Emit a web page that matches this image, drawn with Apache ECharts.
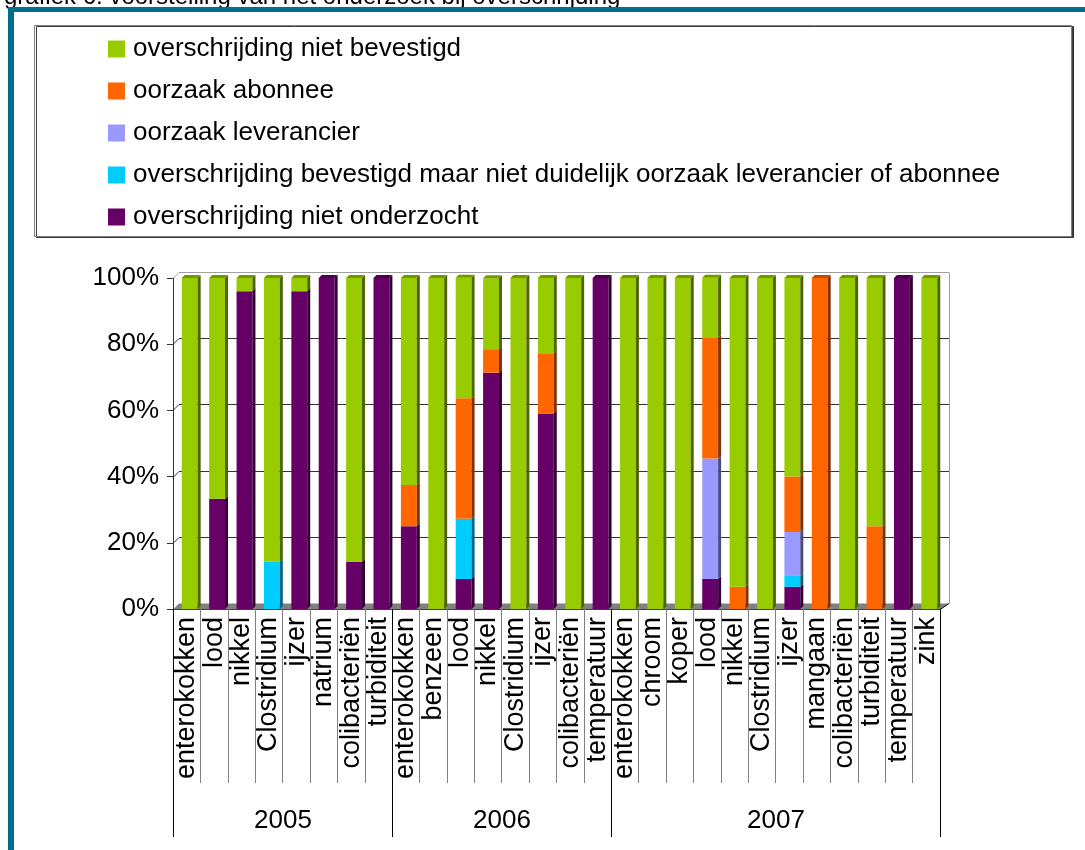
<!DOCTYPE html>
<html>
<head>
<meta charset="utf-8">
<script src="https://cdn.jsdelivr.net/npm/echarts@6/dist/echarts.min.js"></script>
<style>
  html, body { margin: 0; padding: 0; background: #fff; }
  #chart { width: 1085px; height: 850px; }
</style>
</head>
<body>
<div id="chart"></div>
<script>
// Parameters per year, in display order
const categories = [
  'enterokokken', 'lood', 'nikkel', 'Clostridium', 'ijzer', 'natrium', 'colibacteriën', 'turbiditeit',
  'enterokokken', 'benzeen', 'lood', 'nikkel', 'Clostridium', 'ijzer', 'colibacteriën', 'temperatuur',
  'enterokokken', 'chroom', 'koper', 'lood', 'nikkel', 'Clostridium', 'ijzer', 'mangaan', 'colibacteriën', 'turbiditeit', 'temperatuur', 'zink'
];
const years = ['2005', '2006', '2007'];
const yearCounts = [8, 8, 12];
const yTicks = [0, 20, 40, 60, 80, 100];

// Shares in % per parameter, stacked bottom to top
const nietOnderzocht = [
  0, 33.3, 96, 0, 96, 100, 14.3, 100,
  25, 0, 9.1, 71.4, 0, 59.1, 0, 100,
  0, 0, 0, 9.1, 0, 0, 6.7, 0, 0, 0, 100, 0
];
const bevestigdOnduidelijk = [
  0, 0, 0, 14.3, 0, 0, 0, 0,
  0, 0, 18.2, 0, 0, 0, 0, 0,
  0, 0, 0, 0, 0, 0, 3.3, 0, 0, 0, 0, 0
];
const oorzaakLeverancier = [
  0, 0, 0, 0, 0, 0, 0, 0,
  0, 0, 0, 0, 0, 0, 0, 0,
  0, 0, 0, 36.4, 0, 0, 13.3, 0, 0, 0, 0, 0
];
const oorzaakAbonnee = [
  0, 0, 0, 0, 0, 0, 0, 0,
  12.5, 0, 36.4, 7.1, 0, 18.2, 0, 0,
  0, 0, 0, 36.4, 6.7, 0, 16.7, 100, 0, 25, 0, 0
];
const nietBevestigd = [
  100, 66.7, 4, 85.7, 4, 0, 85.7, 0,
  62.5, 100, 36.4, 21.4, 100, 22.7, 100, 0,
  100, 100, 100, 18.2, 93.3, 100, 60, 0, 100, 75, 0, 100
];

const FONT = '"Liberation Sans", Arial, sans-serif';

// stack order (bottom -> top) with front / side / top face colours
const layers = [
  { name: 'overschrijding niet onderzocht', values: nietOnderzocht, color: '#660066', side: '#330033', top: '#4a004a' },
  { name: 'overschrijding bevestigd maar niet duidelijk oorzaak leverancier of abonnee', values: bevestigdOnduidelijk, color: '#00ccff', side: '#00667f', top: '#0099bf' },
  { name: 'oorzaak leverancier', values: oorzaakLeverancier, color: '#9999ff', side: '#4c4c80', top: '#7373bf' },
  { name: 'oorzaak abonnee', values: oorzaakAbonnee, color: '#ff6600', side: '#803300', top: '#bf4c00' },
  { name: 'overschrijding niet bevestigd', values: nietBevestigd, color: '#99cc00', side: '#4c6600', top: '#739900' }
];

const totals = categories.map((_, i) => layers.reduce((s, l) => s + l.values[i], 0));

function barSeries(layer, li) {
  const data = categories.map((_, i) => {
    let base = 0;
    for (let k = 0; k < li; k++) base += layers[k].values[i];
    return [i, base, base + layer.values[i]];
  });
  return {
    type: 'custom',
    name: layer.name,
    itemStyle: { color: layer.color },
    z: 3,
    data: data,
    renderItem: function (params, api) {
      const i = api.value(0), b = api.value(1), t = api.value(2);
      if (t - b <= 0.0001) return null;
      const p0 = api.coord([i, b]);
      const p1 = api.coord([i, t]);
      const cw = api.size([1, 0])[0];
      const fl = p0[0] - cw * 0.18;
      const fw = cw * 0.58;
      const dx = 3, dy = 3;
      const children = [
        { type: 'rect', shape: { x: fl, y: p1[1], width: fw, height: p0[1] - p1[1] }, style: { fill: layer.color } },
        { type: 'polygon', shape: { points: [[fl + fw, p1[1]], [fl + fw + dx, p1[1] - dy], [fl + fw + dx, p0[1] - dy], [fl + fw, p0[1]]] }, style: { fill: layer.side } }
      ];
      if (t >= totals[i] - 0.01) {
        children.push({ type: 'polygon', shape: { points: [[fl, p1[1]], [fl + dx, p1[1] - dy], [fl + fw + dx, p1[1] - dy], [fl + fw, p1[1]]] }, style: { fill: layer.top } });
      }
      return { type: 'group', children: children };
    }
  };
}

// back wall: gridlines, floor and right edge
const wallSeries = {
  type: 'custom',
  name: 'wall',
  silent: true,
  z: 1,
  data: yTicks.map(v => [0, v]),
  renderItem: function (params, api) {
    const cs = params.coordSys;
    const x0 = cs.x, x1 = cs.x + cs.width;
    const v = api.value(1);
    const y = Math.round(api.coord([0, v])[1]) + 0.5;
    const ddl = 6, ddr = 9, dh = 6;
    const children = [];
    if (v === 0) {
      children.push({ type: 'polygon', shape: { points: [[x0, y], [x0 + ddl, y - dh], [x1 + ddr, y - dh], [x1, y]] }, style: { fill: '#808080' } });
      const yTop = Math.round(api.coord([0, 100])[1]) + 0.5;
      children.push({ type: 'line', shape: { x1: x1 + ddr + 0.5, y1: y - dh, x2: x1 + ddr + 0.5, y2: yTop - dh }, style: { stroke: '#a0a0a0', lineWidth: 1 } });
      children.push({ type: 'line', shape: { x1: x1, y1: y, x2: x1 + ddr, y2: y - dh }, style: { stroke: '#000', lineWidth: 1 } });
    } else {
      const col = v === 100 ? '#a0a0a0' : '#333333';
      children.push({ type: 'line', shape: { x1: x0 + ddl, y1: y - dh, x2: x1 + ddr, y2: y - dh }, style: { stroke: col, lineWidth: 1 } });
      children.push({ type: 'line', shape: { x1: x0, y1: y, x2: x0 + ddl, y2: y - dh }, style: { stroke: col, lineWidth: 1 } });
    }
    return { type: 'group', children: children };
  }
};

// year groups below the parameter labels
const yearStarts = yearCounts.map((c, k) => yearCounts.slice(0, k).reduce((a, b) => a + b, 0));
const yearSeries = {
  type: 'custom',
  name: 'jaren',
  silent: true,
  z: 2,
  data: years.map((y, k) => [yearStarts[k], yearStarts[k] + yearCounts[k] - 1]),
  renderItem: function (params, api) {
    const k = params.dataIndex;
    const s = api.value(0), e = api.value(1);
    const cw = api.size([1, 0])[0];
    const xl = Math.round(api.coord([s, 0])[0] - cw / 2) + 0.5;
    const xr = Math.round(api.coord([e, 0])[0] + cw / 2) + 0.5;
    const y0 = api.coord([s, 0])[1];
    const children = [
      { type: 'line', shape: { x1: xl, y1: y0, x2: xl, y2: y0 + 228 }, style: { stroke: '#000', lineWidth: 1 } },
      { type: 'text', x: (xl + xr) / 2, y: y0 + 212, style: { text: years[k], font: '26px ' + FONT, fill: '#000', align: 'center', verticalAlign: 'middle' } }
    ];
    if (k === years.length - 1) {
      children.push({ type: 'line', shape: { x1: xr, y1: y0, x2: xr, y2: y0 + 228 }, style: { stroke: '#000', lineWidth: 1 } });
    }
    return { type: 'group', children: children };
  }
};

const chart = echarts.init(document.getElementById('chart'), null, { renderer: 'canvas' });
chart.setOption({
  animation: false,
  backgroundColor: '#ffffff',
  textStyle: { fontFamily: FONT },
  graphic: [
    { type: 'text', x: 4, y: 9, z: 10, style: { text: 'grafiek 6: voorstelling van het onderzoek bij overschrijding', font: '24px ' + FONT, fill: '#000', verticalAlign: 'bottom' } },
    { type: 'rect', z: 11, shape: { x: 8, y: 7, width: 1077, height: 5 }, style: { fill: '#006f8f' } },
    { type: 'rect', z: 11, shape: { x: 8, y: 7, width: 6, height: 843 }, style: { fill: '#006f8f' } },
    { type: 'rect', z: 0, shape: { x: 34.5, y: 25.5, width: 1037, height: 211 },
      style: { fill: '#fff', stroke: '#808080', lineWidth: 1, shadowColor: 'rgba(40,40,40,0.9)', shadowOffsetX: 2, shadowOffsetY: 1, shadowBlur: 0 } }
  ],
  legend: {
    orient: 'vertical',
    left: 103,
    top: 31,
    itemWidth: 17,
    itemHeight: 17,
    itemGap: 16,
    icon: 'rect',
    data: layers.slice().reverse().map(l => l.name),
    textStyle: { fontSize: 26, lineHeight: 26, color: '#000', fontFamily: FONT, padding: [0, 0, 0, 3] }
  },
  grid: { left: 173, right: 145, top: 278, bottom: 241, containLabel: false },
  xAxis: {
    type: 'category',
    data: categories,
    boundaryGap: true,
    axisLine: { show: true, lineStyle: { color: '#000', width: 1 } },
    axisTick: { show: true, interval: 0, length: 174, lineStyle: { color: '#808080', width: 1 } },
    axisLabel: { interval: 0, rotate: 90, fontSize: 27, color: '#000', margin: 8, fontFamily: FONT },
    splitLine: { show: false }
  },
  yAxis: {
    type: 'value',
    min: 0,
    max: 100,
    interval: 20,
    axisLine: { show: true, lineStyle: { color: '#333', width: 1 } },
    axisTick: { show: true, length: 6, lineStyle: { color: '#333' } },
    axisLabel: { formatter: '{value}%', fontSize: 26, color: '#000', margin: 14, fontFamily: FONT },
    splitLine: { show: false }
  },
  series: [wallSeries, yearSeries].concat(layers.map(barSeries))
});
</script>
</body>
</html>
